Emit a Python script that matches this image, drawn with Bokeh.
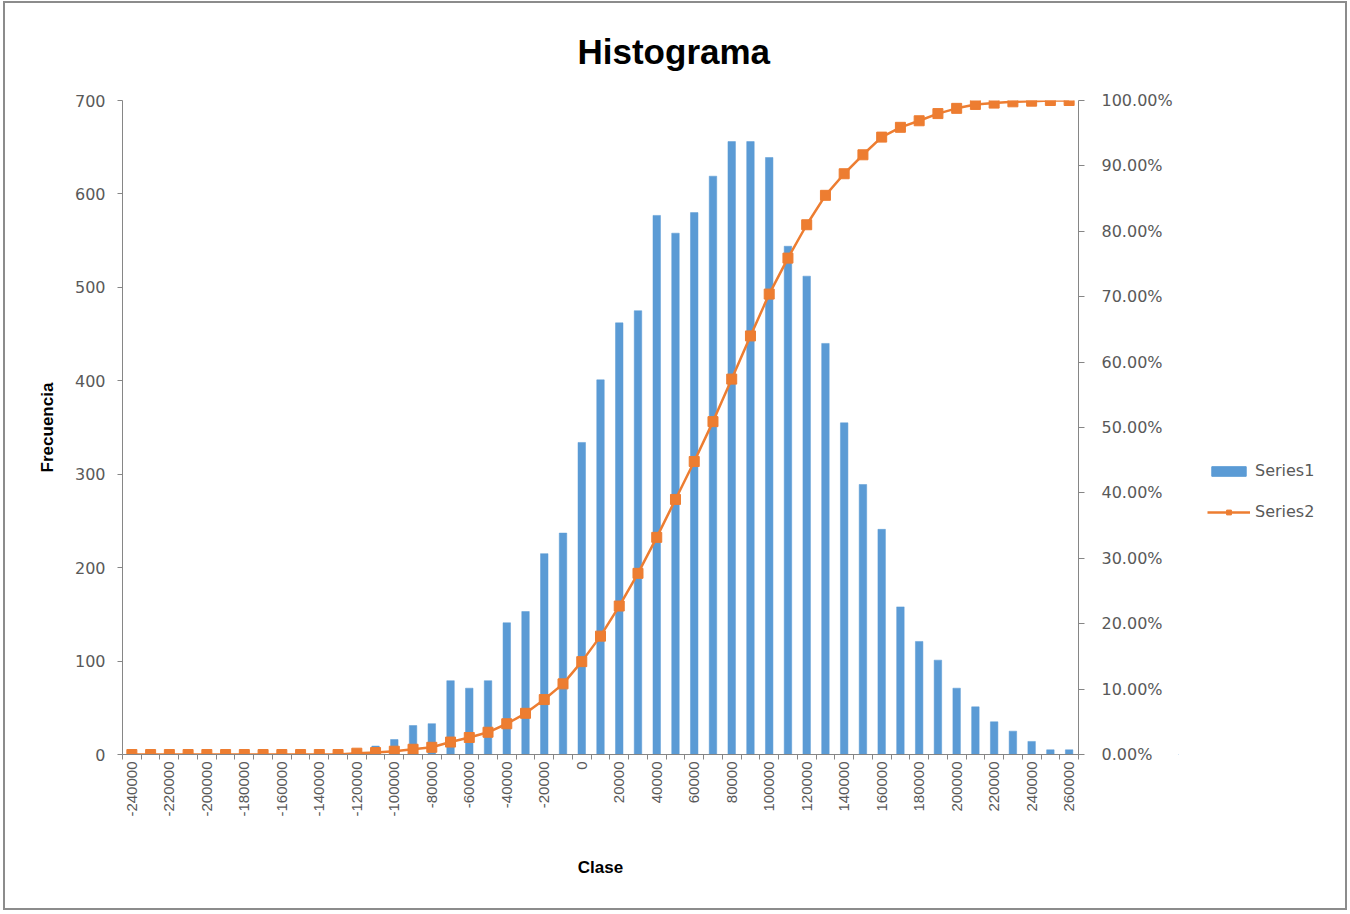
import math
from bokeh.plotting import figure
from bokeh.layouts import row
from bokeh.models import (Range1d, LinearAxis, FixedTicker, NumeralTickFormatter,
                          Legend, LegendItem, Title)
from bokeh.embed import file_html
from bokeh.resources import INLINE

# ---------------- data ----------------
clase = [-240000, -230000, -220000, -210000, -200000, -190000, -180000, -170000,
         -160000, -150000, -140000, -130000, -120000, -110000, -100000, -90000,
         -80000, -70000, -60000, -50000, -40000, -30000, -20000, -10000, 0,
         10000, 20000, 30000, 40000, 50000, 60000, 70000, 80000, 90000, 100000,
         110000, 120000, 130000, 140000, 150000, 160000, 170000, 180000, 190000,
         200000, 210000, 220000, 230000, 240000, 250000, 260000]

frecuencia = [0, 0, 0, 0, 0, 0, 0, 0, 0, 0, 0, 0,
              2, 9, 16, 31, 33, 79, 71, 79, 141, 153, 215, 237, 334, 401, 462,
              475, 577, 558, 580, 619, 656, 656, 639, 544, 512, 440, 355, 289,
              241, 158, 121, 101, 71, 51, 35, 25, 14, 5, 5]

acumulado = [0, 0, 0, 0, 0, 0, 0, 0, 0, 0, 0, 0,
             0.002, 0.003, 0.005, 0.008, 0.011, 0.019, 0.026, 0.034, 0.047,
             0.063, 0.084, 0.108, 0.142, 0.181, 0.227, 0.277, 0.332, 0.390,
             0.448, 0.509, 0.574, 0.640, 0.704, 0.759, 0.810, 0.855, 0.888,
             0.917, 0.944, 0.959, 0.969, 0.980, 0.988, 0.994, 0.996, 0.998,
             0.999, 1.0, 1.0]

x_tick_labels = [-240000, -220000, -200000, -180000, -160000, -140000, -120000,
                 -100000, -80000, -60000, -40000, -20000, 0, 20000, 40000, 60000,
                 80000, 100000, 120000, 140000, 160000, 180000, 200000, 220000,
                 240000, 260000]
y_ticks = [0, 100, 200, 300, 400, 500, 600, 700]
pct_ticks = [0.0, 0.1, 0.2, 0.3, 0.4, 0.5, 0.6, 0.7, 0.8, 0.9, 1.0]
series_names = ["Series1", "Series2"]

# ---------------- style ----------------
BLUE = "#5B9BD5"
ORANGE = "#ED7D31"
AXIS = "#868686"
TXT = "#595959"

p = figure(width=1173, height=905, output_backend="svg", toolbar_location=None,
           x_range=Range1d(-245000, 265000), y_range=Range1d(0, 700),
           x_axis_type=None, y_axis_type=None,
           min_border_left=117, min_border_right=100, min_border_top=97,
           min_border_bottom=154)
p.outline_line_color = None
p.xgrid.visible = False
p.ygrid.visible = False
p.extra_y_ranges = {"pct": Range1d(0, 1)}

p.title = Title(text="Histograma", align="left", offset=455,
                vertical_align="top",
                text_font="Liberation Sans", text_font_size="35px",
                text_font_style="bold", text_color="#000000", standoff=56)

bars = p.vbar(x=clase, top=frecuencia, width=4000, fill_color=BLUE,
              line_color=BLUE, line_width=0.5)
line = p.line(x=clase, y=acumulado, y_range_name="pct", line_color=ORANGE,
              line_width=2.5)
sq = p.scatter(x=clase, y=acumulado, y_range_name="pct", marker="square",
               size=10, fill_color=ORANGE, line_color=ORANGE)

# x axis
boundaries = [c - 5000 for c in clase] + [clase[-1] + 5000]
xaxis = LinearAxis(ticker=FixedTicker(ticks=x_tick_labels, minor_ticks=boundaries),
                   formatter=NumeralTickFormatter(format="0"),
                   axis_label="Clase")
xaxis.major_label_orientation = math.pi / 2
xaxis.major_tick_out = 0
xaxis.major_tick_in = 0
xaxis.minor_tick_out = 5
xaxis.minor_tick_in = 0
xaxis.major_label_standoff = 2
xaxis.axis_line_color = AXIS
xaxis.minor_tick_line_color = AXIS
xaxis.major_label_text_font = "Liberation Sans"
xaxis.major_label_text_font_size = "15px"
xaxis.major_label_text_color = TXT
xaxis.axis_label_text_font = "Liberation Sans"
xaxis.axis_label_text_font_size = "17px"
xaxis.axis_label_text_font_style = "bold"
xaxis.axis_label_text_color = "#000000"
xaxis.axis_label_standoff = 38
p.add_layout(xaxis, "below")

# left axis
yaxis = LinearAxis(ticker=FixedTicker(ticks=y_ticks, minor_ticks=[]),
                   axis_label="Frecuencia")
yaxis.major_tick_out = 5
yaxis.major_tick_in = 0
yaxis.minor_tick_out = 0
yaxis.major_label_standoff = 12
yaxis.axis_line_color = AXIS
yaxis.major_tick_line_color = AXIS
yaxis.major_label_text_font = "DejaVu Sans"
yaxis.major_label_text_font_size = "16px"
yaxis.major_label_text_color = TXT
yaxis.axis_label_text_font = "Liberation Sans"
yaxis.axis_label_text_font_size = "17px"
yaxis.axis_label_text_font_style = "bold"
yaxis.axis_label_text_color = "#000000"
yaxis.axis_label_standoff = 15
p.add_layout(yaxis, "left")

# right axis
raxis = LinearAxis(y_range_name="pct",
                   ticker=FixedTicker(ticks=pct_ticks, minor_ticks=[]),
                   formatter=NumeralTickFormatter(format="0.00%"))
raxis.major_tick_out = 6
raxis.major_tick_in = 0
raxis.minor_tick_out = 0
raxis.major_label_standoff = 17
raxis.axis_line_color = AXIS
raxis.major_tick_line_color = AXIS
raxis.major_label_text_font = "DejaVu Sans"
raxis.major_label_text_font_size = "16px"
raxis.major_label_text_color = TXT
p.add_layout(raxis, "right")

# ---------------- legend panel (separate figure to the right) ----------------
q = figure(width=167, height=905, output_backend="svg", toolbar_location=None,
           x_range=Range1d(0, 1), y_range=Range1d(0, 1),
           x_axis_type=None, y_axis_type=None,
           min_border_left=0, min_border_right=0, min_border_top=0,
           min_border_bottom=0)
q.outline_line_color = None
q.xgrid.visible = False
q.ygrid.visible = False
# legend proxies: one real data point each, lying outside this panel's view
lb = q.vbar(x=[clase[0]], top=[frecuencia[0]], width=0.1, fill_color=BLUE,
            line_color=BLUE)
ll = q.line(x=[clase[0], clase[1]], y=[acumulado[0], acumulado[1]],
            line_color=ORANGE, line_width=2.5)
ls = q.scatter(x=[clase[0]], y=[acumulado[0]], marker="square", size=10,
               fill_color=ORANGE, line_color=ORANGE)
legend = Legend(items=[LegendItem(label=series_names[0], renderers=[lb]),
                       LegendItem(label=series_names[1], renderers=[ll, ls])],
                location=(29, 233), glyph_width=43, glyph_height=12,
                label_standoff=5, spacing=22, padding=0, margin=0,
                border_line_color=None, background_fill_alpha=0,
                label_text_font="DejaVu Sans", label_text_font_size="16px",
                label_text_color=TXT)
q.add_layout(legend, "center")

layout = row(p, q)
layout.styles = {"border": "2px solid #8c8c8c", "margin-left": "3px",
                 "margin-top": "1px"}

open("out.html", "w").write(file_html(layout, INLINE))
